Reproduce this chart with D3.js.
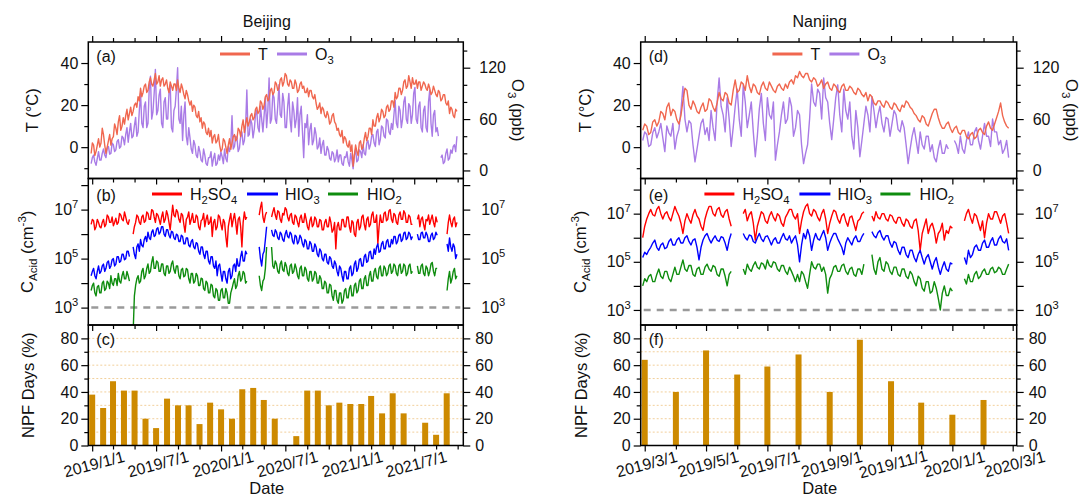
<!DOCTYPE html>
<html><head><meta charset="utf-8">
<script src="https://cdn.jsdelivr.net/npm/d3@7"></script>
<style>
body{margin:0;background:#fff}
svg text{font-family:"Liberation Sans",Arial,sans-serif;fill:#111}
</style></head><body>
<svg id="c" width="1084" height="497"></svg>
<script>
// ---------------- DATA ----------------
// Beijing: samples every 3.5 days (84 h) starting 2018-12-29
const bjStart = "2018-12-29", bjStepHours = 84;
const bjT = [-3,2, 1,-4, -2,1, 4,0, 2,9, 6,1, -3,0, 3,6, 1,4, 5,11, 9,6, 12,15, 8,10, 14,11, 15,18, 13,16, 19,15, 17,20, 21,19, 24,22,
 28,24, 26,29, 30,26, 27,31, 33,30, 29,32, 35,30, 31,34, 29,32, 33,29, 30,32, 28,26, 31,29, 27,30, 30,27, 32,28, 26,30, 28,25, 23,27, 25,22,
 20,22, 17,20, 19,15, 14,17, 12,14, 9,12, 11,7, 6,9, 5,8, 2,5, 6,2, 3,6, 1,-2, -1,4, 3,0, -3,1, 4,-1, 2,5, 6,3, 4,9,
 8,5, 10,13, 7,11, 14,10, 12,15, 16,13, 14,18, 19,16, 17,22, 21,18, 20,24, 25,22, 23,27, 28,25, 26,31, 30,27, 28,32, 33,29, 31,35, 34,30,
 29,32, 31,28, 28,32, 30,26, 27,30, 31,28, 29,26, 26,28, 24,27, 27,24, 23,25, 21,18, 19,21, 16,19, 18,15, 14,17, 15,11, 12,15, 16,12, 11,8,
 9,6, 5,8, 2,5, 4,1, 0,3, -2,1, -9,-4, 1,-2, -4,2, 3,-1, 0,4, 7,3, 5,9, 9,6, 13,10, 10,14, 16,12, 14,18, 17,14, 15,19,
 20,17, 18,22, 22,19, 26,23, 24,28, 28,25, 27,31, 32,28, 29,34, 31,28, 33,30, 30,32, 28,31, 31,27, 29,31, 30,28, 27,30, 28,25, 26,29, 27,25,
 24,27, 26,22, 23,25, 25,21, 20,22, 16,19, 18,15, 14,18, 17];
const bjO3 = [8,15, 18,10, 6,14, 22,12, 12,20, 25,18, 15,26, 28,19, 20,32, 30,22, 24,34, 36,26, 28,40, 38,30, 42,50, 33,45, 55,38, 40,52, 62,40, 45,70,
 90,55, 50,75, 80,50, 55,95, 110,60, 68,90, 118,65, 70,88, 95,55, 50,80, 85,60, 60,90, 100,50, 45,70, 75,95, 120,60, 55,75, 35,65, 80,40, 30,50,
 38,25, 20,35, 30,18, 15,28, 22,12, 10,25, 18,8, 6,15, 15,22, 5,14, 20,6, 8,18, 12,22, 16,8, 25,14, 10,28, 22,30, 64,25, 28,40, 38,22,
 26,40, 45,30, 35,52, 94,40, 42,60, 55,38, 48,65, 70,50, 45,75, 60,45, 65,85, 50,70, 108,55, 60,90, 85,60, 55,75, 100,65, 62,90, 80,50, 50,75,
 90,60, 45,80, 70,50, 60,85, 40,65, 75,45, 15,55, 50,65, 30,48, 55,30, 35,50, 42,25, 28,38, 20,30, 35,18, 18,28, 24,14, 12,22, 20,10, 14,24,
 10,18, 18,8, 6,16, 15,22, 10,5, 20,12, 2,18, 25,10, 12,24, 22,15, 30,20, 18,32, 35,25, 30,40, 42,32, 28,45, 48,30, 36,52, 50,40, 38,60,
 58,45, 42,55, 48,65, 82,55, 50,75, 70,50, 60,80, 86,60, 55,78, 75,55, 65,90, 97,60, 55,75, 80,50, 45,70, 75,50, 45,80, 94,55, 40,65, 70,45,
 50,40, null,15, 18,8, 10,20, 25,12, 14,24, 20,28, 30,22, 40];
const bjH2SO4 = [2.5e6,4e6, 3.5e6,1.5e6, 2e6,4e6, 3e6,2e6, 1.8e6,3e6, 4e6,2e6, 2.5e6,6e6, 5e6,3e6, 3e6,5e6, 2.2e6,3e6, 4.5e6,2.5e6, 3e6,7e6, 6e6,4e6, 3.5e6,8e6, 5e6,3e6, 2.5e6,4e6,
 null,null,
 1e6,2e6, 3e6,6e6, 5e6,3e6, 2.5e6,5e6, 6e6,3e6, 3.5e6,8e6, 7e6,4e6, 4e6,1e7, 9e6,5e6, 3e6,7e6, 6e6,4e6, 2.5e6,5e6, 8e6,3e6, 4e6,9e6, 6e6,3e6, 1.5e6,5e6,
 1.5e7,6e6, 5e6,1e7, 8e6,4e6, 3e6,7e6, 6e6,2.5e6, 1.2e6,4e6, 5e6,8e6, 2.5e6,4e6, 7e6,3e6, 3e6,6e6, 5e6,2e6, 1.5e6,3.5e6, 4e6,7e6, 2e6,4e6, 6e6,2.5e6,
 3e6,5e6, 8e5,3e6, 4e6,1.5e6, 2e6,6e6, 5e6,2.5e6, 1.5e6,4e6, 3e6,8e5, 3e5,2e6, 4e6,7e6, 2e6,4e6, 7e6,3e6, 1e6,4e6, 5e6,2e6, 3e5,3e6, 8e6,4e6,
 5e6,null, null,null, null,null, null,null, null,null,
 6e6,1.2e7, 2e7,5e6, 3e6,6e6, 8e6,null, null,null,
 5e6,8e6, 1.2e7,6e6, 4e6,9e6, 8e6,4e6, 3e6,7e6, 6e6,1.2e7, 1e7,5e6, 3.5e6,6e6, 7e6,3e6, 2.5e6,6e6, 5e6,3e6, 2e6,4.5e6, 6e6,3e6, 3e6,7e6,
 4e6,2e6, 1.5e6,3.5e6, 5e6,2e6, 2.5e6,5e6, 4e6,2e6, 2e6,4e6, 3.5e6,1.5e6, 1.5e6,3e6, 4e6,2e6, 2e6,5e6, 3e6,1.2e6, 1.5e6,3e6, 2.5e5,2e6, 3e6,1.5e6,
 1.5e6,4e6, 4e6,2e6, 2e6,5e6, 5e6,2e6, 1.2e6,3.5e6, 3e6,1e6, 8e5,3e6, 4e6,1.5e6, 2e6,5e6, 6e6,2.5e6, 1.5e6,4e6, 5e6,2e6, 2.5e6,6e6, 8e6,3e6,
 3e6,6e6, 4e5,2e6, 6e6,3e6, 3e6,7e6, 8e6,3.5e6, 4e6,9e6, 1e7,4e6, 3e6,7e6, 6e6,3e6, 2.5e6,6e6, 8e6,4e6, 4e6,9e6, 7e6,3e6, 3e6,6e6, 5e6,2.5e6,
 2.5e6,null, null,null,
 4e6,6e6, 2e6,4e6, 5e6,2.5e6, 1.5e6,4e6, 3.5e6,6e6, 2.5e6,4e6, 6e6,3e6, 2e6,5e6, 3e6,null,
 null,null, null,null, null,null,
 1e6,3e6, 6e6,3e6, 2e6,4e6, 5e6,2e6, 3e6];
const bjHIO3 = [2e4,3e4, 4e4,2e4, 1.5e4,3e4, 5e4,2.5e4, 3e4,5e4, 6e4,3e4, 4e4,7e4, 8e4,4e4, 5e4,9e4, 1e5,5e4, 6e4,1.2e5, 1.2e5,7e4, 8e4,1.5e5, 1.5e5,9e4, 1e5,2e5, 2e5,1.2e5,
 null,null,
 3e5,1.5e5, 1e5,3e5, 4e5,2e5, 6e5,3.5e5, 3e5,6e5, 8e5,5e5, 1.2e6,7e5, 6e5,1.2e6, 1.5e6,8e5, 9e5,1.6e6, 1.8e6,1e6, 1.2e6,2e6, 2e6,1e6, 8e5,1.5e6, 1.5e6,9e5, 7e5,1.3e6,
 1.2e6,7e5, 6e5,1e6, 9e5,5e5, 5e5,9e5, 8e5,4e5, 4e5,7e5, 7e5,3.5e5, 3e5,5e5, 6e5,3e5, 2.5e5,4.5e5, 4e5,2e5, 1.5e5,3e5, 3e5,1.5e5, 1e5,2e5, 2e5,8e4,
 6e4,1.2e5, 1.2e5,5e4, 4e4,8e4, 2e4,5e4, 6e4,2.5e4, 1.2e4,3e4, 3e4,1.5e4, 1e4,3e4, 4e4,1.5e4, 2e4,5e4, 6e4,3e4, 1e5,5e4, 5e4,1.2e5, 2e5,8e4, 8e4,2e5,
 1.5e5,null, null,null, null,null, null,null, null,null,
 3e5,1e5, 5e4,1.5e5, 2e5,6e5, 2e6,null, null,null,
 1.5e6,9e5, 8e5,1.5e6, 1.2e6,7e5, 6e5,1.2e6, 1e6,6e5, 5e5,1e6, 1.4e6,8e5, 7e5,1.2e6, 1e6,5e5, 4e5,9e5, 8e5,4e5, 5e5,9e5, 7e5,4e5, 3e5,6e5,
 5e5,2.5e5, 2.5e5,5e5, 4e5,2e5, 2e5,4e5, 3e5,1.5e5, 1.2e5,2.5e5, 2e5,1e5, 8e4,1.5e5, 1.5e5,7e4, 6e4,1.2e5, 1e5,5e4, 4e4,8e4, 6e4,3e4, 2e4,5e4,
 4e4,2e4, 1.2e4,3e4, 3e4,1.5e4, 1.5e4,4e4, 5e4,2e4, 2.5e4,6e4, 8e4,3e4, 4e4,9e4, 1e5,5e4, 5e4,1.2e5, 1.5e5,7e4, 8e4,1.8e5, 2e5,1e5, 1e5,2.5e5,
 1.5e5,3e5, 4e5,1.8e5, 2e5,4e5, 5e5,2.5e5, 2.5e5,5e5, 6e5,3e5, 3e5,6e5, 4e5,8e5, 8e5,4e5, 5e5,9e5, 1e6,5e5, 6e5,1.1e6, 1.2e6,6e5, 7e5,1.2e6, 1e6,6e5,
 8e5,null, null,null,
 1e6,6e5, 6e5,1.1e6, 1.2e6,7e5, 7e5,1.2e6, 9e5,5e5, 5e5,9e5, 1.1e6,6e5, 7e5,1.2e6, 9e5,null,
 null,null, null,null, null,null,
 4e5,2e5, 7e5,3e5, 2e5,4e5, 3e5,1e5, 1.5e5];
const bjHIO2 = [5e3,8e3, 1e4,4e3, 3e3,7e3, 8e3,4e3, 4e3,1e4, 1.2e4,5e3, 6e3,1.2e4, 1e4,6e3, 2e4,1e4, 8e3,1.5e4, 1.5e4,8e3, 2.5e4,1.2e4, 1e4,2e4, 3e4,1.5e4, 1.5e4,3e4, 2e4,1.2e4,
 null,null,
 100,3e3, 8e3,1.5e4, 2e4,1e4, 1.2e4,3e4, 4e4,1.5e4, 2e4,4e4, 6e4,2.5e4, 3e4,7e4, 1.2e5,4e4, 4e4,8e4, 7e4,3e4, 3e4,6e4, 6e4,2.5e4, 2e4,5e4, 5e4,2.5e4, 3e4,6e4,
 8e4,3.5e4, 2.5e4,5e4, 5e4,2e4, 1.5e4,3.5e4, 4e4,1.8e4, 2e4,4e4, 3.5e4,1.5e4, 1e4,2.5e4, 2.5e4,1e4, 1.2e4,2.5e4, 2e4,8e3, 8e3,1.6e4, 1.5e4,6e3, 5e3,1.2e4, 1e4,4e3,
 4e3,9e3, 8e3,3e3, 2.5e3,6e3, 5e3,2e3, 2e3,5e3, 6e3,2.5e3, 2.5e3,6e3, 4e3,1.5e3, 1.5e3,4e3, 6e3,1e4, 1.5e4,6e3, 8e3,2e4, 3e4,1.2e4, 1.5e4,3e4, 2.5e4,1e4,
 1.2e4,null, null,null, null,null, null,null, null,null,
 2e4,8e3, 5e3,1.2e4, 1.5e4,4e4, 3e5,null, null,null,
 3e5,5e4, 4e4,8e4, 6e4,3e4, 2.5e4,6e4, 8e4,3.5e4, 3e4,7e4, 5e4,2.5e4, 2e4,5e4, 6e4,2.5e4, 3e4,6e4, 4e4,2e4, 1.5e4,4e4, 5e4,2e4, 2e4,4.5e4,
 3.5e4,1.5e4, 1.2e4,3e4, 3e4,1.2e4, 1.5e4,3e4, 2.5e4,1e4, 1e4,2e4, 1.5e4,6e3, 6e3,1.2e4, 1e4,4e3, 4e3,9e3, 8e3,3e3, 2e3,5e3, 5e3,2e3, 1.5e3,4e3,
 4e3,1.5e3, 2e3,5e3, 6e3,2.5e3, 2.5e3,6e3, 8e3,3e3, 3e3,8e3, 1e4,4e3, 5e3,1.2e4, 1.5e4,6e3, 6e3,1.5e4, 2e4,8e3, 8e3,2e4, 3e4,1.2e4, 1.2e4,3e4,
 4e4,1.8e4, 1.5e4,4e4, 5e4,2e4, 2e4,5e4, 4e4,2e4, 2.5e4,5e4, 6e4,2.5e4, 3e4,6e4, 5e4,2.5e4, 2e4,5e4, 6e4,2.5e4, 3e4,6e4, 5e4,2e4, 2.5e4,5e4, 6e4,2.5e4,
 3e4,null, null,null,
 5e4,2.5e4, 2.5e4,5e4, 6e4,2.5e4, 2e4,5e4, 4e4,2e4, 3e4,6e4, 7e4,3e4, 2e4,4e4, 4e4,null,
 null,null, null,null, null,null,
 5e3,1.5e4, 3e4,1e4, 1.5e4,3e4, 4e4,1.5e4, 2e4];
const bjMonths = ["2019-01","2019-02","2019-03","2019-04","2019-05","2019-06","2019-07","2019-08","2019-09","2019-10","2019-11","2019-12",
 "2020-01","2020-02","2020-03","2020-04","2020-05","2020-06","2020-07","2020-08","2020-09","2020-10","2020-11","2020-12",
 "2021-01","2021-02","2021-03","2021-04","2021-05","2021-06","2021-07","2021-08","2021-09","2021-10"];
const bjNPF = [38,28,48,41,41,20,13,35,30,30,16,32, 27,20,42,43,34,20,null,7,41,41,30,32, 31,31,37,24,39,24,null,17,8,39];
const bjMajorTicks = ["2019/1/1","2019/7/1","2020/1/1","2020/7/1","2021/1/1","2021/7/1"];
const bjMinorTicks = ["2019/3/1","2019/5/1","2019/9/1","2019/11/1","2020/3/1","2020/5/1","2020/9/1","2020/11/1","2021/3/1","2021/5/1","2021/9/1","2021/11/1"];

// Nanjing: samples every 2 days (48 h) starting 2019-02-27
const njStart = "2019-02-27", njStepHours = 48;
const njT = [8,11, 10,6, 7,12, 13,10, 12,17, 16,13, 19,21, 15,18, 17,13, 11,15, 22,28, 27,20, 18,22, 20,17, 16,19, 21,17, 18,23, 22,19, 17,21, 26,23,
 22,26, 25,21, 20,27, 32,26, 27,31, 30,27, 34,29, 26,30, 29,26, 25,29, 31,28, 27,31, 29,27, 26,29, 30,28, 27,30, 28,31, 32,30, 34,33, 36,34,
 33,35, 35,32, 31,33, 32,29, 30,32, 28,30, 31,28, 27,30, 29,27, 26,29, 30,27, 27,29, 28,26, 25,28, 27,25, 24,26, 22,25, 24,21, 20,22, 22,20,
 19,22, 21,19, 18,21, 20,18, 17,20, 19,22, 21,19, 18,16, 15,13, 12,15, 14,11, 10,13, 16,18, 18,14, 11,9, 9,11, 12,9, 7,9, 10,7, 6,8,
 8,5, 4,6, 7,4, 5,8, 9,7, 6,10, 12,9, 8,11, 14,17, 21,15, 12,10, 9];
const njO3 = [35,45, 42,28, 30,44, 50,38, 45,55, 38,22, 52,44, 40,55, 25,40, 48,70, 98,60, 45,58, 55,30, 10,25, 40,55, 60,42, 50,35, 70,50, 35,80, 108,75,
 65,45, 85,60, 28,50, 75,95, 60,40, 100,80, 50,65, 80,45, 16,40, 72,90, 55,35, 85,65, 60,80, 12,30, 45,65, 80,55, 60,85, 75,40, 50,70, 65,30,
 8,20, 30,60, 101,80, 75,95, 90,60, 108,85, 80,55, 36,60, 85,100, 65,45, 95,70, 60,80, 40,25, 70,50, 16,35, 55,75, 65,45, 86,70, 50,65, 75,55,
 45,62, 60,40, 55,70, 65,48, 45,58, 50,30, 8,25, 40,50, 35,20, 45,30, 25,40, 40,22, 30,15, 10,25, 35,20, 20,30, 25,null, null,35, 30,20, 40,25,
 20,35, 45,30, 30,45, 50,35, 25,40, 55,40, 40,28, 60,45, 45,30, 35,20, 25,35, 15];
const njH2SO4 = [1e6,3e6, 6e6,1e7, 1.5e7,9e6, 8e6,1.5e7, 2e7,1e7, 6e6,1e7, 1.2e7,7e6, 5e6,1e7, 2e7,1.2e7, 8e6,4e6, 1.5e6,5e6, 1e7,6e6, 4e6,9e6, 1.5e7,8e6,
 6e6,3e6, 2e6,6e6, 1.2e7,2e7, 2e7,1e7, 8e6,1.5e7, 1.8e7,9e6, 7e6,1.2e7, 1.5e7,6e6, 3e6,null, null,null, null,null,
 1e7,1.5e7, 5e6,9e6, 1.2e7,4e6, 8e5,3e6, 6e6,1.2e7, 1e7,5e6, 4e6,8e6, 1.2e7,7e6, 5e6,1e7, 8e6,4e6, 3e6,7e6, 1e7,1.5e7, 1.5e7,8e6, 6e6,1e7, 1.5e6,5e6,
 1.2e7,2e7, 2.5e7,1e7, 8e6,1.5e7, 1.2e7,7e6, 5e6,1e7, 1.5e7,6e6, 1.5e6,4e6, 8e6,1.4e7, 1.2e7,6e6, 4e6,8e6, 1e7,5e6, 3e6,7e6, 8e6,4e6, 2e6,5e6,
 6e6,1e7, 1.2e7,null, null,null,
 8e6,5e6, 1.2e7,7e6, 6e6,1e7, 1e7,6e6, 5e6,9e6, 8e6,5e6, 4e6,7e6, 7e6,4e6, 3e6,6e6, 5e6,3e6, 2.5e6,5e6, 6e6,2e6, 3e5,1.5e6, 3e6,6e6, 1.5e6,3e6,
 4e6,2e6, 6e5,1.5e6, 2e6,4e6, 8e5,2e6, 1.5e6,3e6, 2.5e6,null, null,null, null,null,
 5e6,1e7, 1.5e7,7e6, 4e6,1e7, 8e6,4e6, 2e6,5e6, 1e6,4e6, 1e7,6e6, 6e6,1.2e7, 1.2e7,7e6, 4e6,8e6, 1e7,4e6, 1.5e6];
const njHIO3 = [1.5e5,2.5e5, 2e5,3e5, 4e5,6e5, 8e5,4e5, 3e5,5e5, 6e5,3.5e5, 4e5,7e5, 9e5,5e5, 5e5,8e5, 1e6,6e5, 6e5,1e6, 1.2e6,7e5, 5e5,8e5, 9e5,4e5,
 1.2e5,4e5, 8e5,1.2e6, 1.5e6,9e5, 6e5,9e5, 1.2e6,8e5, 7e5,1.1e6, 1e6,6e5, 3e5,8e5, 1.5e6,null, null,null, null,null,
 1.5e6,1e6, 8e5,1.3e6, 1.2e6,7e5, 6e5,1e6, 1.5e6,9e5, 7e5,1.1e6, 1.2e6,8e5, 5e5,8e5, 1e6,6e5, 6e5,1e6, 1.5e6,9e5, 8e5,1.2e6, 6e5,9e5, 1.2e6,5e5, 1e5,5e5,
 1.5e6,9e5, 2.2e6,1.2e6, 3e5,8e5, 1.5e6,9e5, 8e5,1.3e6, 2e6,1e6, 3e5,6e5, 1e6,1.5e6, 1.5e6,9e5, 6e5,4e5, 2e5,6e5, 1e6,7e5, 5e5,9e5, 1.2e6,7e5,
 7e5,1.1e6, 1.5e6,null, null,null,
 1.8e6,1.2e6, 1e6,1.6e6, 2e6,1.1e6, 8e5,1.2e6, 1.2e6,6e5, 4e5,7e5, 6e5,3e5, 2e5,4e5, 4e5,2e5, 1.5e5,3e5, 3e5,1.5e5, 1e5,2e5, 3e5,1.5e5, 8e4,1.5e5, 2e5,1e5,
 5e4,1e5, 1.5e5,6e4, 3e4,6e4, 1e5,5e4, 4e4,9e4, 8e4,null, null,null, null,null,
 1.5e5,8e4, 3e5,1.5e5, 2e5,4e5, 5e5,3e5, 3e5,6e5, 8e5,4e5, 4e5,7e5, 1e6,5e5, 5e5,9e5, 1.2e6,7e5, 6e5,9e5, 3e5];
const njHIO2 = [1e4,2e4, 1.5e4,2.5e4, 3e4,1.5e4, 1.5e4,3e4, 5e4,2.5e4, 2e4,4e4, 4e4,2e4, 1.5e4,3e4, 6e4,3e4, 3e4,6e4, 1.2e5,5e4, 4e4,7e4, 7e4,3e4, 2.5e4,5e4,
 6e4,3e4, 3e4,6e4, 8e4,5e4, 4e4,7e4, 6e4,3e4, 2.5e4,5e4, 5e4,2.5e4, 1e4,3e4, 4e4,null, null,null, null,null,
 5e4,3e4, 8e4,5e4, 4e4,7e4, 1e5,6e4, 5e4,9e4, 8e4,5e4, 1.2e5,7e4, 6e4,1e5, 9e4,5e4, 4e4,7e4, 7e4,4e4, 3e4,6e4, 4e4,2.5e4, 1.5e4,3e4, 1.5e4,4e4,
 3e4,1.5e4, 8e3,3e4, 1e5,6e4, 5e4,8e4, 8e4,4e4, 6e4,3e4, 5e3,2e4, 3e4,6e4, 7e4,4e4, 4e4,7e4, 8e4,4e4, 3e4,5e4, 6e4,3e4, 2.5e4,5e4,
 5e4,3e4, 8e4,null, null,null,
 2e5,5e4, 3e4,1e5, 1.5e5,5e4, 4e4,1e5, 8e4,4e4, 3e4,6e4, 6e4,3e4, 2.5e4,5e4, 5e4,2.5e4, 2e4,4e4, 3e4,1.5e4, 1e4,2.5e4, 2e4,8e3, 6e3,1.5e4, 1.5e4,5e3,
 6e3,1.5e4, 8e3,3e3, 1e3,5e3, 1e4,4e3, 4e3,8e3, 6e3,null, null,null, null,null,
 2e4,1.2e4, 3e4,1.5e4, 1.5e4,3e4, 4e4,2e4, 2.5e4,4e4, 5e4,3e4, 3e4,5e4, 6e4,3.5e4, 4e4,6e4, 5e4,3e4, 3e4,5e4, 8e4];
const njMonths = ["2019-03","2019-04","2019-05","2019-06","2019-07","2019-08","2019-09","2019-10","2019-11","2019-12","2020-01","2020-02"];
const njNPF = [64,40,71,53,59,68,40,79,48,32,23,34];
const njMajorTicks = ["2019/3/1","2019/5/1","2019/7/1","2019/9/1","2019/11/1","2020/1/1","2020/3/1"];
const njMinorTicks = ["2019/4/1","2019/6/1","2019/8/1","2019/10/1","2019/12/1","2020/2/1"];

// ---------------- STYLE / LAYOUT ----------------
const COL = {T:"#F0674F", O3:"#A97BE6", H:"#FF0000", I3:"#0000FF", I2:"#0E8C0E", bar:"#CD8A00", dash:"#9a9a9a", grid:"#F2CF9A"};
const Y0 = 42, YAB = 178.5, YBC = 325, YBOT = 445.5;
const pDash = d3.timeParse("%Y-%m-%d"), pSlash = d3.timeParse("%Y/%m/%d"), pMonth = d3.timeParse("%Y-%m");
const svg = d3.select("#c");

const panels = [
 {title:"Beijing", x0:88.3, x1:463.3, dom:["2018-12-21","2021-11-17"], logDom:[Math.pow(10,2.29),Math.pow(10,8.27)],
  start:bjStart, step:bjStepHours, T:bjT, O3:bjO3, H:bjH2SO4, I3:bjHIO3, I2:bjHIO2, months:bjMonths, npf:bjNPF,
  major:bjMajorTicks, minor:bjMinorTicks, tags:["(a)","(b)","(c)"], id:"bj"},
 {title:"Nanjing", x0:640.7, x1:1016.7, dom:["2019-02-25","2020-03-05"], logDom:[Math.pow(10,2.375),Math.pow(10,8.46)],
  start:njStart, step:njStepHours, T:njT, O3:njO3, H:njH2SO4, I3:njHIO3, I2:njHIO2, months:njMonths, npf:njNPF,
  major:njMajorTicks, minor:njMinorTicks, tags:["(d)","(e)","(f)"], id:"nj"}
];

function styleAxis(g){ g.select(".domain").remove(); g.selectAll("line").attr("stroke","#000").attr("stroke-width",1.2); g.selectAll("text").remove(); }

function txt(x,y,s,opts={}){
  const fs = opts.size||16;
  const t = svg.append("text").attr("x",x).attr("y",y).attr("font-size",fs).attr("text-anchor",opts.anchor||"start");
  if(opts.dy) t.attr("dy",opts.dy);
  if(opts.transform) t.attr("transform",opts.transform);
  (Array.isArray(s)?s:[[s]]).forEach(p=>{
    const ts = t.append("tspan").text(p[0]);
    if(p[1]==="sub"){ ts.attr("font-size",fs*0.7).attr("dy",4); }
    else if(p[1]==="sup"){ ts.attr("font-size",fs*0.7).attr("dy",-7); }
    else if(p[1]==="back"){ ts.attr("dy",-4); }
    else if(p[1]==="backsup"){ ts.attr("dy",7); }
  });
  return t;
}

panels.forEach(P=>{
  const x = d3.scaleTime().domain(P.dom.map(pDash)).range([P.x0,P.x1]);
  const yT = d3.scaleLinear().domain([-14.9,50]).range([YAB,Y0]);
  const yO = d3.scaleLinear().domain([-9.4,150]).range([YAB,Y0]);
  const yC = d3.scaleLog().domain(P.logDom).range([YBC,YAB]);
  const yN = d3.scaleLinear().domain([0,90]).range([YBOT,YBC]);
  const dates = P.T.map((_,i)=>d3.timeHour.offset(pDash(P.start), P.step*i));

  const defs = svg.append("defs");
  [["a",Y0,YAB],["b",YAB,YBC],["c",YBC,YBOT]].forEach(([k,a,b])=>{
    defs.append("clipPath").attr("id",P.id+k).append("rect").attr("x",P.x0).attr("y",a).attr("width",P.x1-P.x0).attr("height",b-a);
  });
  const lineOf = (arr, ys)=> d3.line().defined((d,i)=>arr[i]!=null).x((d,i)=>x(dates[i])).y((d,i)=>ys(arr[i]))(arr);

  // (a) T and O3
  const ga = svg.append("g").attr("clip-path",`url(#${P.id}a)`);
  ga.append("path").attr("d",lineOf(P.O3,yO)).attr("fill","none").attr("stroke",COL.O3).attr("stroke-width",1.4).attr("stroke-linejoin","round");
  ga.append("path").attr("d",lineOf(P.T,yT)).attr("fill","none").attr("stroke",COL.T).attr("stroke-width",1.4).attr("stroke-linejoin","round");

  // (b) acids
  const gb = svg.append("g").attr("clip-path",`url(#${P.id}b)`);
  gb.append("line").attr("x1",P.x0+3).attr("x2",P.x1-3).attr("y1",yC(1e3)).attr("y2",yC(1e3))
    .attr("stroke",COL.dash).attr("stroke-width",2.5).attr("stroke-dasharray","7,6");
  [["H",COL.H],["I3",COL.I3],["I2",COL.I2]].forEach(([k,c])=>{
    gb.append("path").attr("d",lineOf(P[k],yC)).attr("fill","none").attr("stroke",c).attr("stroke-width",1.4).attr("stroke-linejoin","round");
  });

  // (c) NPF bars
  const gc = svg.append("g").attr("clip-path",`url(#${P.id}c)`);
  d3.range(10,81,10).forEach(v=>{
    gc.append("line").attr("x1",P.x0).attr("x2",P.x1).attr("y1",yN(v)).attr("y2",yN(v))
      .attr("stroke",COL.grid).attr("stroke-width",1).attr("stroke-dasharray","2,2");
  });
  gc.selectAll("rect.bar").data(P.months.map((m,i)=>({d:pMonth(m),v:P.npf[i]})).filter(d=>d.v!=null))
    .join("rect").attr("class","bar").attr("x",d=>x(d.d)-3).attr("width",6)
    .attr("y",d=>yN(d.v)).attr("height",d=>yN(0)-yN(d.v)).attr("fill",COL.bar);

  // frames
  [[Y0,YAB],[YAB,YBC],[YBC,YBOT]].forEach(([a,b])=>{
    svg.append("rect").attr("x",P.x0).attr("y",a).attr("width",P.x1-P.x0).attr("height",b-a)
      .attr("fill","none").attr("stroke","#000").attr("stroke-width",1.5);
  });

  // x ticks
  const maj = P.major.map(pSlash), mnr = P.minor.map(pSlash);
  svg.append("g").attr("transform",`translate(0,${Y0})`).call(d3.axisTop(x).tickValues(maj).tickSize(6)).call(styleAxis);
  svg.append("g").attr("transform",`translate(0,${Y0})`).call(d3.axisTop(x).tickValues(mnr).tickSize(4)).call(styleAxis);
  [YAB,YBC,YBOT].forEach(yy=>{
    svg.append("g").attr("transform",`translate(0,${yy})`).call(d3.axisBottom(x).tickValues(maj).tickSize(6)).call(styleAxis);
    svg.append("g").attr("transform",`translate(0,${yy})`).call(d3.axisBottom(x).tickValues(mnr).tickSize(4)).call(styleAxis);
  });
  const fmt = d3.timeFormat("%Y/%-m/%-d");
  maj.forEach(d=>{
    txt(0,0,fmt(d),{anchor:"middle",dy:"0.35em",transform:`translate(${x(d)+2},${464}) rotate(-15)`});
  });

  // y axes
  const yax = (scale, x0, side, majors, minors)=>{
    const A = side<0?d3.axisLeft:d3.axisRight;
    svg.append("g").attr("transform",`translate(${x0},0)`).call(A(scale).tickValues(majors).tickSize(7)).call(styleAxis);
    if(minors.length) svg.append("g").attr("transform",`translate(${x0},0)`).call(A(scale).tickValues(minors).tickSize(4)).call(styleAxis);
  };
  yax(yT,P.x0,-1,[0,20,40],[-10,10,30]);
  [0,20,40].forEach(v=>txt(P.x0-10,yT(v),String(v),{anchor:"end",dy:"0.35em"}));
  yax(yO,P.x1,1,[0,60,120],[20,40,80,100,140]);
  [0,60,120].forEach(v=>txt(P.x1+16,yO(v),String(v),{dy:"0.35em"}));

  const decs = [1e3,1e4,1e5,1e6,1e7,1e8];
  yax(yC,P.x0,-1,decs,[]);
  yax(yC,P.x1,1,decs,[]);
  [3,5,7].forEach(e=>{
    txt(P.x0-10,yC(Math.pow(10,e)),[["10"],[String(e),"sup"]],{anchor:"end",dy:"0.35em"});
    txt(P.x1+18,yC(Math.pow(10,e)),[["10"],[String(e),"sup"]],{dy:"0.35em"});
  });

  yax(yN,P.x0,-1,[0,20,40,60,80],[10,30,50,70]);
  yax(yN,P.x1,1,[0,20,40,60,80],[10,30,50,70]);
  [0,20,40,60,80].forEach(v=>{
    txt(P.x0-10,yN(v),String(v),{anchor:"end",dy:"0.35em"});
    txt(P.x1+12,yN(v),String(v),{dy:"0.35em"});
  });

  // panel tags
  txt(P.x0+8,62,P.tags[0]);
  txt(P.x0+8,201,P.tags[1]);
  txt(P.x0+8,345,P.tags[2]);

  // legends
  const dx = P.x0-88.3;
  const leg = (x1,x2,y,c)=>svg.append("line").attr("x1",x1+dx).attr("x2",x2+dx).attr("y1",y).attr("y2",y).attr("stroke",c).attr("stroke-width",3);
  leg(220,250,54,COL.T); txt(258+dx,54,"T",{dy:"0.35em"});
  leg(277,307,54,COL.O3); txt(315+dx,54,[["O"],["3","sub"]],{dy:"0.35em"});
  leg(152,182,194,COL.H); txt(190+dx,194,[["H"],["2","sub"],["SO","back"],["4","sub"]],{dy:"0.35em"});
  leg(247,278,194,COL.I3); txt(285+dx,194,[["HIO"],["3","sub"]],{dy:"0.35em"});
  leg(328,358,194,COL.I2); txt(367+dx,194,[["HIO"],["2","sub"]],{dy:"0.35em"});

  // titles
  const cx = (P.x0+P.x1)/2 - 9;
  txt(cx,27,P.title,{anchor:"middle"});
  txt(cx,494,"Date",{anchor:"middle",size:16.5});
  txt(0,0,"T (°C)",{anchor:"middle",size:16.5,transform:`translate(${P.x0-50},${(Y0+YAB)/2}) rotate(-90)`});
  txt(0,0,[["C"],["Acid","sub"],[" (cm","back"],["-3","sup"],[")","backsup"]],{anchor:"middle",size:16.5,transform:`translate(${P.x0-55},${(YAB+YBC)/2}) rotate(-90)`});
  txt(0,0,"NPF Days (%)",{anchor:"middle",size:16.5,transform:`translate(${P.x0-54},${(YBC+YBOT)/2}) rotate(-90)`});
  txt(0,0,[["O"],["3","sub"],[" (ppb)","back"]],{anchor:"middle",size:16.5,transform:`translate(${P.x1+49},${(Y0+YAB)/2}) rotate(90)`});
});
</script>
</body></html>
